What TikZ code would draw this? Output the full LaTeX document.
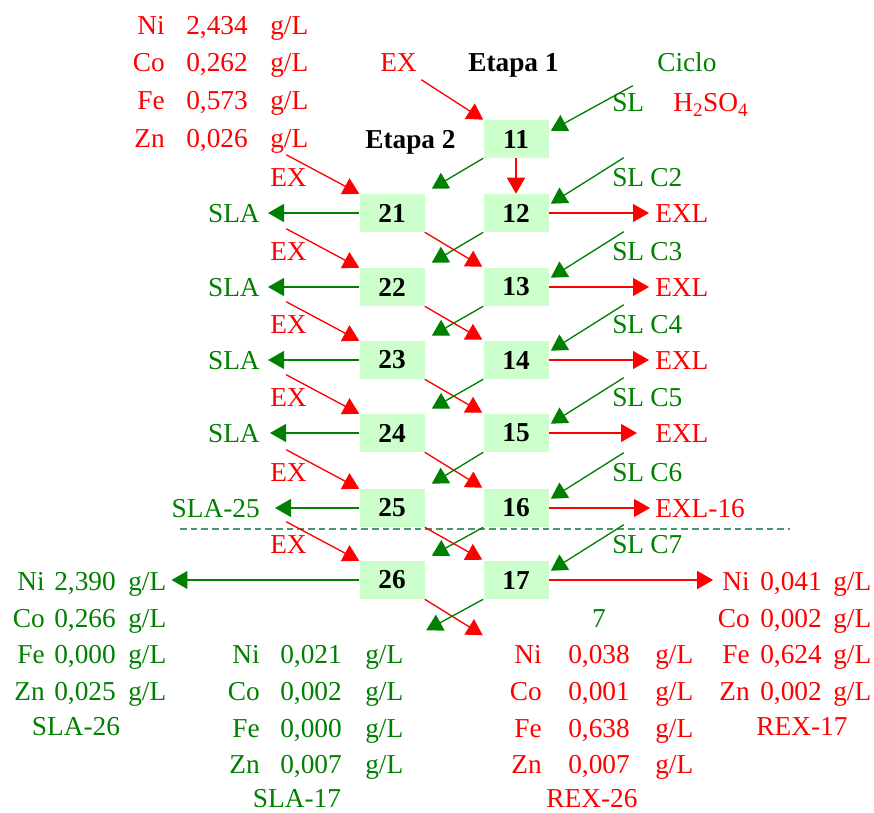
\documentclass[tikz,border=0pt]{standalone}
\usepackage{fontspec}
\setmainfont{Liberation Serif}
\usetikzlibrary{arrows.meta,calc}
\definecolor{ered}{RGB}{255,0,0}
\definecolor{sgreen}{RGB}{0,128,0}
\definecolor{cellfill}{RGB}{204,255,204}
\definecolor{splitline}{RGB}{70,150,110}
\newcommand\labfont{\fontsize{20.5}{24}\selectfont}
\begin{document}
\begin{tikzpicture}[x=0.75pt,y=-0.75pt,
  txt/.style={inner sep=0pt,font=\labfont},
  rt/.style={txt,text=ered},
  gt/.style={txt,text=sgreen},
  cell/.style={fill=cellfill,minimum width=48.75pt,minimum height=28.5pt,inner sep=0pt,font=\labfont\bfseries},
  rarr/.style={draw=ered,line width=1pt,-{Triangle[length=12pt,width=13.5pt]}},
  garr/.style={draw=sgreen,line width=1pt,-{Triangle[length=12pt,width=13.5pt]}}]
\useasboundingbox (0,0) rectangle (874,813);

% ---- stage cells ----
\foreach \n/\y in {11/139,12/213,13/287,14/360,15/433,16/508,17/580}
  \node[cell] (b\n) at (516,\y) {\n};
\foreach \n/\y in {21/213,22/287,23/360,24/433,25/508,26/580}
  \node[cell] (b\n) at (392,\y) {\n};

% ---- headings ----
\node[txt,anchor=base west,font=\labfont\bfseries] (et1) at (468,72) {Etapa 1};
\node[txt,anchor=base west,font=\labfont\bfseries] (et2) at (365,149) {Etapa 2};
\node[rt,anchor=base west] (extop) at (380,72) {EX};
\node[gt,anchor=base west] (ciclo) at (657,72) {Ciclo};
\node[gt,anchor=base west] (sl11) at (612,112) {SL};
\node[rt,anchor=base west] (acid) at (673,112) {H\textsubscript{2}SO\textsubscript{4}};

% ---- feed composition ----
\foreach \el/\v/\y [count=\i] in {Ni/{2,434}/35,Co/{0,262}/72,Fe/{0,573}/110,Zn/{0,026}/148}{
  \node[rt,anchor=base east] (fe\i) at (165,\y) {\el};
  \node[rt,anchor=base west] (fv\i) at (186,\y) {\v};
  \node[rt,anchor=base west] (fu\i) at (270,\y) {g/L};
}

% ---- side labels ----
\foreach \k/\y in {21/186,22/260,23/333,24/406,25/481,26/553}
  \node[rt,anchor=base west] (ex\k) at (270,\y) {EX};
\foreach \k/\c/\y in {12/C2/186,13/C3/260,14/C4/333,15/C5/406,16/C6/481,17/C7/553}{
  \node[gt,anchor=base west] (sl\k) at (612,\y) {SL};
  \node[gt,anchor=base west] (c\k) at (650,\y) {\c};
}
\foreach \k/\y in {21/222,22/296,23/369,24/442}
  \node[gt,anchor=base east] (sla\k) at (260,\y) {SLA};
\node[gt,anchor=base east] (sla25) at (260,517) {SLA-25};
\foreach \k/\y in {12/222,13/296,14/369,15/442}
  \node[rt,anchor=base west] (exl\k) at (655,\y) {EXL};
\node[rt,anchor=base west] (exl16) at (655,517) {EXL-16};

% ---- product compositions ----
\foreach \el/\v/\y [count=\i] in {Ni/{2,390}/590,Co/{0,266}/627,Fe/{0,000}/663,Zn/{0,025}/700}{
  \node[gt,anchor=base east] (le\i) at (45,\y) {\el};
  \node[gt,anchor=base west] (lv\i) at (54,\y) {\v};
  \node[gt,anchor=base west] (lu\i) at (128,\y) {g/L};
}
\node[gt,anchor=base] (sla26) at (76,735) {SLA-26};

\foreach \el/\v/\y [count=\i] in {Ni/{0,021}/663,Co/{0,002}/700,Fe/{0,000}/737,Zn/{0,007}/773}{
  \node[gt,anchor=base east] (me\i) at (260,\y) {\el};
  \node[gt,anchor=base west] (mv\i) at (280,\y) {\v};
  \node[gt,anchor=base west] (mu\i) at (365,\y) {g/L};
}
\node[gt,anchor=base] (sla17) at (297,807) {SLA-17};

\node[gt,anchor=base] (seven) at (599,627) {7};
\foreach \el/\v/\y [count=\i] in {Ni/{0,038}/663,Co/{0,001}/700,Fe/{0,638}/737,Zn/{0,007}/773}{
  \node[rt,anchor=base east] (re\i) at (542,\y) {\el};
  \node[rt,anchor=base west] (rv\i) at (568,\y) {\v};
  \node[rt,anchor=base west] (ru\i) at (655,\y) {g/L};
}
\node[rt,anchor=base] (rex26) at (592,807) {REX-26};

\foreach \el/\v/\y [count=\i] in {Ni/{0,041}/590,Co/{0,002}/627,Fe/{0,624}/663,Zn/{0,002}/700}{
  \node[rt,anchor=base east] (ke\i) at (750,\y) {\el};
  \node[rt,anchor=base west] (kv\i) at (760,\y) {\v};
  \node[rt,anchor=base west] (ku\i) at (833,\y) {g/L};
}
\node[rt,anchor=base] (rex17) at (802,735) {REX-17};

% ---- separator between cycles ----
\draw[splitline,line width=0.8pt,dash pattern=on 5pt off 3pt] (180,529) -- (790,529);

% ---- horizontal outlets ----
\foreach \k/\d in {21/8,22/8,23/8,24/10,25/15}
  \draw[garr] (b\k.west) -- ($(b\k.west -| sla\k.east)+(\d,0)$);
\foreach \k/\d in {12/6,13/6,14/6,15/18}
  \draw[rarr] (b\k.east) -- ($(b\k.east -| exl\k.west)+(-\d,0)$);
\draw[rarr] (b16.east) -- ($(b16.east -| exl16.west)+(-5,0)$);
\draw[garr] (b26.west) -- ($(b26.west -| lu1.east)+(5,0)$);
\draw[rarr] (b17.east) -- ($(b17.east -| ke1.west)+(-9,0)$);

% ---- feeds into stage 1 ----
\draw[rarr] ($(b11.north west)+(-62,-40)$) -- (b11.north west);
\draw[rarr] (b11.south) -- (b12.north);
\draw[garr] ($(b11.north east)+(84,-34)$) -- ($(b11.north east)+(2,11)$);
\foreach \k in {12,...,17}
  \draw[garr] ($(b\k.north east)+(75,-36)$) -- ($(b\k.north east)+(2,10)$);

% ---- feeds into stage 2 ----
\foreach \k in {21,...,26}
  \draw[rarr] ($(b\k.north west)+(-73,-39)$) -- (b\k.north west);

% ---- crossing streams between the two columns ----
\foreach \a/\b in {21/13,22/14,23/15,24/16,25/17}
  \draw[rarr] (b\a.south east) -- ($(b\b.north west)+(-1,-1)$);
\draw[rarr] (b26.south east) -- ($(b26.south east)+(58,36)$);
\foreach \a/\b in {11/21,12/22,13/23,14/24,15/25,16/26}
  \draw[garr] (b\a.south west) -- ($(b\b.north east)+(7,-5)$);
\draw[garr] (b17.south west) -- ($(b17.south west)+(-57,31)$);
\end{tikzpicture}
\end{document}
